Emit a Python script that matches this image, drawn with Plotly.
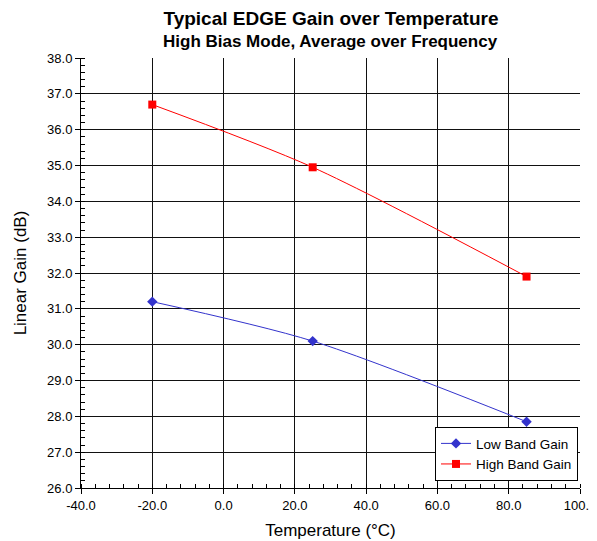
import plotly.graph_objects as go

temps = [-20, 25, 85]
low_band = [31.2, 30.1, 27.85]
high_band = [36.7, 34.95, 31.9]

x_tick_vals = [-40, -20, 0, 20, 40, 60, 80, 100]
x_tick_text = ["-40.0", "-20.0", "0.0", "20.0", "40.0", "60.0", "80.0", "100.0"]

FONT = "Arial"

fig = go.Figure()
fig.add_trace(go.Scatter(x=temps, y=low_band, mode="lines+markers", name="Low Band Gain",
                         line=dict(color="#3333CC", width=1, shape="spline", smoothing=0.8),
                         marker=dict(symbol="diamond", size=8, color="#3333CC")))
fig.add_trace(go.Scatter(x=temps, y=high_band, mode="lines+markers", name="High Band Gain",
                         line=dict(color="#FF0000", width=1, shape="spline", smoothing=0.8),
                         marker=dict(symbol="square", size=8, color="#FF0000")))

axis_common = dict(showline=True, linecolor="black", linewidth=1, mirror=False,
                   gridcolor="#111111", gridwidth=1, ticks="outside", ticklen=5,
                   tickcolor="black", zeroline=False, automargin=False,
                   tickfont=dict(family=FONT, size=13, color="black"))

fig.update_xaxes(range=[-40, 100], tickvals=x_tick_vals, ticktext=x_tick_text,
                 ticklabeloverflow="allow",
                 title=dict(text="Temperature (°C)", font=dict(family=FONT, size=17, color="black"), standoff=12),
                 minor=dict(dtick=4, ticks="inside", ticklen=4, tickcolor="black", showgrid=False),
                 **axis_common)
fig.update_yaxes(range=[26, 38], dtick=1, tickformat=".1f",
                 title=dict(text="Linear Gain (dB)", font=dict(family=FONT, size=17, color="black"), standoff=16),
                 minor=dict(dtick=0.2, ticks="inside", ticklen=4, tickcolor="black", showgrid=False),
                 **axis_common)

fig.update_layout(
    width=597, height=541,
    plot_bgcolor="white", paper_bgcolor="white",
    margin=dict(l=73, r=25, t=50, b=61, autoexpand=False),
    title=dict(text="<b>Typical EDGE Gain over Temperature</b>",
               x=0.541, xanchor="center", y=1 - 10 / 541, yanchor="middle",
               font=dict(family=FONT, size=19, color="black")),
    annotations=[dict(text="<b>High Bias Mode, Average over Frequency</b>",
                      xref="paper", yref="paper", x=0.5, y=1.0, xanchor="center", yanchor="middle",
                      yshift=17, showarrow=False, font=dict(family=FONT, size=17, color="black"))],
    legend=dict(x=0.996, y=0.016, xanchor="right", yanchor="bottom",
                bgcolor="white", bordercolor="black", borderwidth=1,
                font=dict(family=FONT, size=13.5, color="black"),
                itemwidth=30, tracegroupgap=0),
    showlegend=True,
)

fig.write_html("out.html")
